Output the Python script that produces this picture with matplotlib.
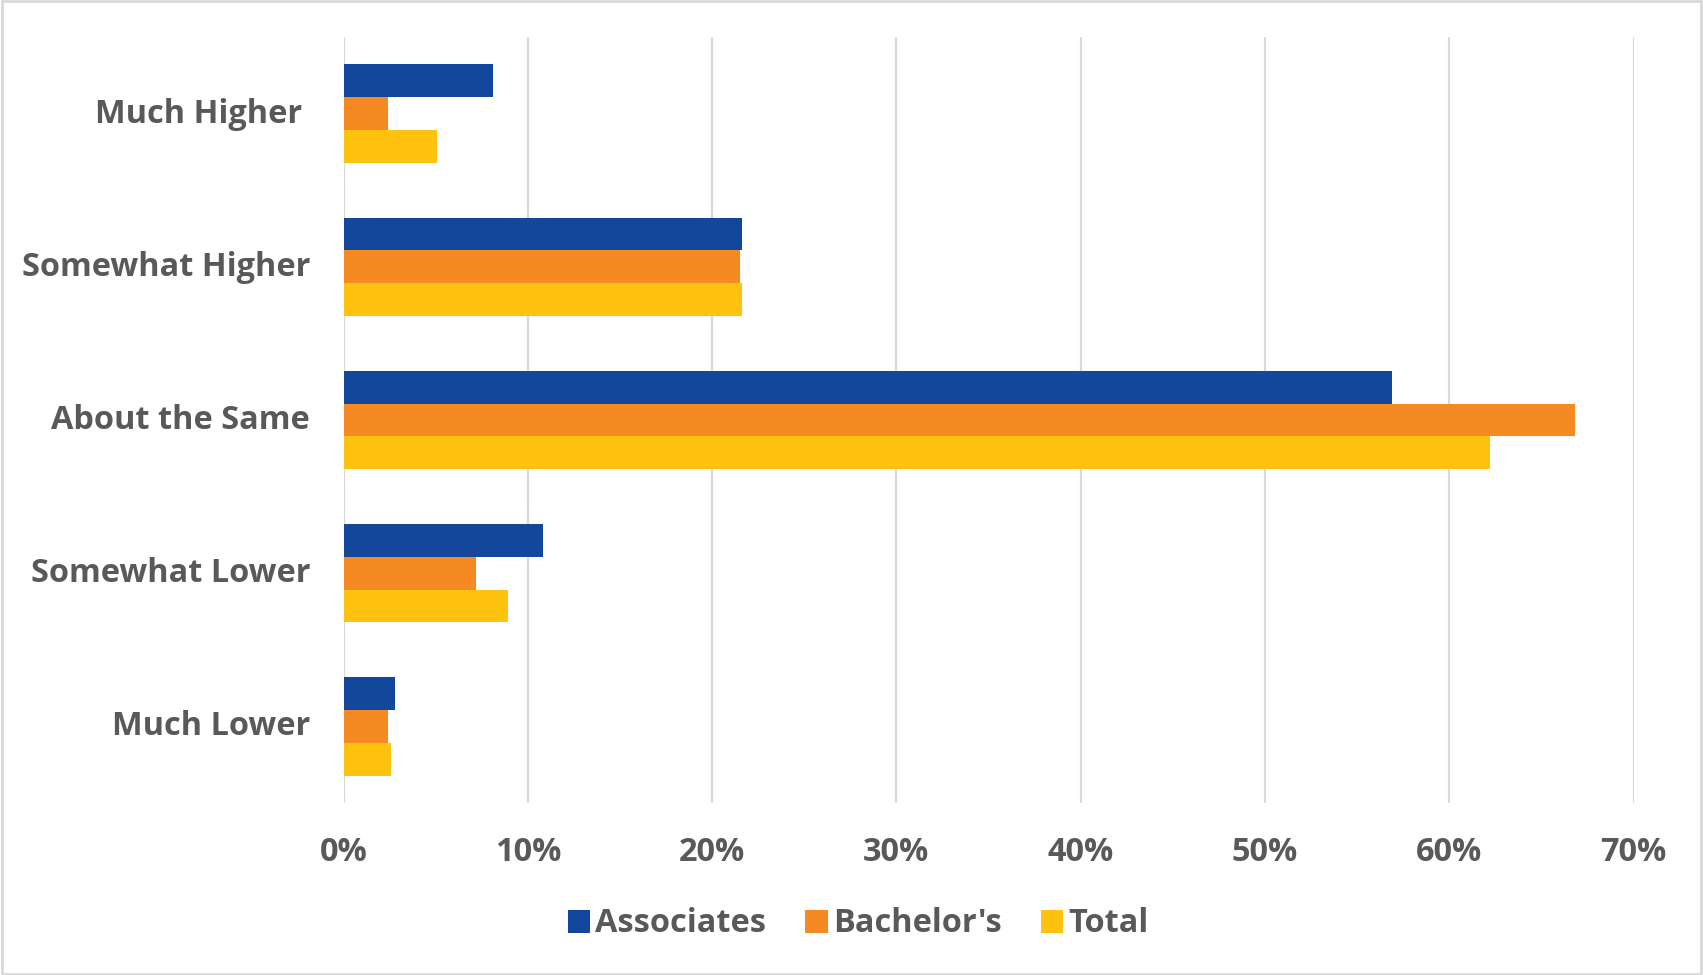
import matplotlib
matplotlib.use("Agg")
import matplotlib.pyplot as plt
import matplotlib.transforms as mtransforms
import numpy as np
from matplotlib.patches import Rectangle

categories = ["Much Higher ", "Somewhat Higher", "About the Same", "Somewhat Lower", "Much Lower"]
associates = [8.1, 21.6, 56.9, 10.8, 2.8]
bachelors = [2.4, 21.5, 66.8, 7.2, 2.4]
total = [5.1, 21.6, 62.2, 8.9, 2.6]
series_names = ["Associates", "Bachelor's", "Total"]
colors = ["#13479c", "#f68a22", "#ffc20e"]
xticks = [0, 10, 20, 30, 40, 50, 60, 70]

plt.rcParams["font.family"] = ["Open Sans", "DejaVu Sans"]
text_color = "#595959"
grid_color = "#d9d9d9"
fs = 23.4

fig = plt.figure(figsize=(17.03, 9.75), dpi=100)
ax = fig.add_axes([343.5 / 1703, 1 - 803 / 975, (1633.5 - 343.5) / 1703, (803 - 37) / 975])

y = np.arange(len(categories))
h = 0.214
for i, (vals, name, c) in enumerate(zip([associates, bachelors, total], series_names, colors)):
    ax.barh(y + (i - 1) * h, vals, height=h, color=c, label=name, zorder=3)

ax.set_xlim(0, 70)
ax.set_ylim(len(categories) - 0.5, -0.5)
ax.set_xticks(xticks)
ax.set_xticklabels([f"{t}%" for t in xticks])
ax.set_yticks(y)
ax.set_yticklabels(categories)
ax.xaxis.grid(True, color=grid_color, linewidth=1.6, zorder=0)
ax.tick_params(axis="x", length=0, pad=23.5, labelsize=fs, labelcolor=text_color)
ax.tick_params(axis="y", length=0, pad=24, labelsize=fs, labelcolor=text_color)
for lbl in ax.get_xticklabels() + ax.get_yticklabels():
    lbl.set_fontweight("bold")
# nudge category labels slightly upward
shift = mtransforms.ScaledTranslation(0, 2.5 / 72, fig.dpi_scale_trans)
for lbl in ax.get_yticklabels():
    lbl.set_transform(lbl.get_transform() + shift)
for s in ax.spines.values():
    s.set_visible(False)

leg = fig.legend(loc="center", bbox_to_anchor=(858 / 1703, 1 - 924 / 975), ncol=3,
                 frameon=False, fontsize=fs, handlelength=0.7, handleheight=0.7,
                 handletextpad=0.15, columnspacing=1.2)
for t in leg.get_texts():
    t.set_color(text_color)
    t.set_fontweight("bold")

fig.patches.append(Rectangle((0.001, 0.001), 0.998, 0.998, transform=fig.transFigure,
                             fill=False, edgecolor=grid_color, linewidth=2))

fig.savefig("out.png", dpi=100, facecolor="white")
